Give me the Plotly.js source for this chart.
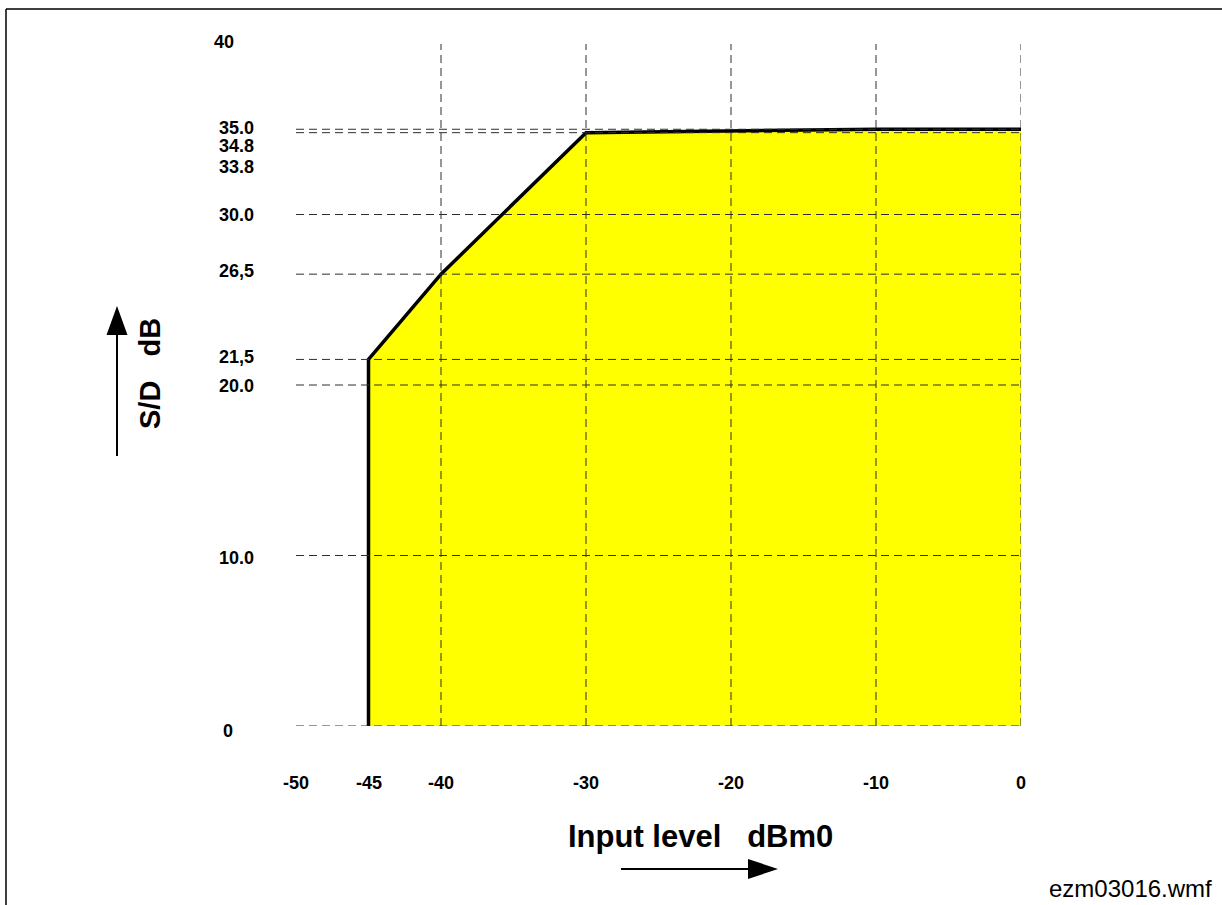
<!DOCTYPE html>
<html>
<head>
<meta charset="utf-8">
<script src="https://cdn.plot.ly/plotly-3.0.1.min.js"></script>
<style>
  html, body { margin: 0; padding: 0; background: #fff; }
  #chart { width: 1222px; height: 905px; }
</style>
</head>
<body>
<div id="chart"></div>
<script>
// ---- data ----
const curveX = [-45, -45, -40, -30, -10, 0];
const curveY = [0, 21.5, 26.5, 34.8, 35, 35];

const gridX = [-40, -30, -20, -10, 0];
const gridY = [0, 10, 20, 21.5, 26.5, 30, 34.8, 35];

const xTickVals = [-50, -45, -40, -30, -20, -10, 0];
const xTickText = ['-50', '-45', '-40', '-30', '-20', '-10', '0'];

const yTickVals = [0, 10, 20, 21.5, 26.5, 30, 33.8, 34.8, 35, 40];
const yTickText = ['0', '10.0', '20.0', '21,5', '26,5', '30.0', '33.8', '34.8', '35.0', '40'];

const xTitle = 'Input level\u00A0\u00A0\u00A0dBm0';
const yTitle = 'S/D\u00A0\u00A0\u00A0dB';
const fileTag = 'ezm03016.wmf';

// ---- layout constants (page pixels) ----
const W = 1222, H = 905;
const M = { l: 296, r: 201, t: 44, b: 179 };
const PW = W - M.l - M.r, PH = H - M.t - M.b;
const px = p => (p - M.l) / PW;          // page x -> paper x
const py = p => (H - M.b - p) / PH;      // page y -> paper y

const FONT = 'Liberation Sans, Arial, sans-serif';
const TICK_SIZE = 18;
const GRID = { color: '#2e2e2e', width: 1, dash: '8px,5px' };

// per-label placement tweaks (style only)
const yLabelStyle = {
  '0':    { xanchor: 'center', xshift: -68, yshift: -5 },
  '40':   { xanchor: 'center', xshift: -72, yshift: 2 },
  '35.0': { yshift: 1 },
  '34.8': { yshift: -13 },
  '33.8': { yshift: -17 },
  '26,5': { yshift: 3 },
  '21,5': { yshift: 2 },
  '20.0': { yshift: -1 },
  '10.0': { yshift: -2 }
};

const shapes = [];
gridX.forEach(v => shapes.push({
  type: 'line', xref: 'x', yref: 'y', x0: v, x1: v, y0: 0, y1: 40,
  line: GRID, layer: 'above'
}));
gridY.forEach(v => shapes.push({
  type: 'line', xref: 'x', yref: 'y', x0: -50, x1: 0, y0: v, y1: v,
  line: GRID, layer: 'above'
}));
// outer frame (left & top edges)
shapes.push({ type: 'line', xref: 'paper', yref: 'paper',
  x0: px(6), x1: px(6), y0: py(9), y1: py(910), line: { color: '#000', width: 1.5 } });
shapes.push({ type: 'line', xref: 'paper', yref: 'paper',
  x0: px(6), x1: px(1230), y0: py(9), y1: py(9), line: { color: '#000', width: 1.5 } });
// up arrow (y axis)
shapes.push({ type: 'line', xref: 'paper', yref: 'paper',
  x0: px(117), x1: px(117), y0: py(456), y1: py(330), line: { color: '#000', width: 2 } });
shapes.push({ type: 'path', xref: 'paper', yref: 'paper',
  path: `M ${px(106.5)} ${py(335)} L ${px(127.5)} ${py(335)} L ${px(117)} ${py(306)} Z`,
  fillcolor: '#000', line: { color: '#000', width: 0 } });
// right arrow (x axis)
shapes.push({ type: 'line', xref: 'paper', yref: 'paper',
  x0: px(621), x1: px(752), y0: py(869), y1: py(869), line: { color: '#000', width: 2 } });
shapes.push({ type: 'path', xref: 'paper', yref: 'paper',
  path: `M ${px(748)} ${py(859)} L ${px(748)} ${py(879)} L ${px(778)} ${py(869)} Z`,
  fillcolor: '#000', line: { color: '#000', width: 0 } });

const annotations = [];
xTickVals.forEach((v, i) => annotations.push({
  xref: 'x', yref: 'y', x: v, y: 0, yshift: -56.5,
  text: xTickText[i], showarrow: false, xanchor: 'center', yanchor: 'middle',
  font: { family: FONT, size: TICK_SIZE, color: '#000', weight: 'bold' }
}));
yTickVals.forEach((v, i) => {
  const t = yTickText[i];
  const s = yLabelStyle[t] || {};
  annotations.push({
    xref: 'x', yref: 'y', x: -50, y: v,
    xshift: s.xshift !== undefined ? s.xshift : -40,
    yshift: s.yshift || 0,
    text: t, showarrow: false, xanchor: s.xanchor || 'right', yanchor: 'middle',
    font: { family: FONT, size: TICK_SIZE, color: '#000', weight: 'bold' }
  });
});
annotations.push({
  xref: 'paper', yref: 'paper', x: px(700), y: py(836),
  text: xTitle, showarrow: false, xanchor: 'center', yanchor: 'middle',
  font: { family: FONT, size: 31, color: '#000', weight: 'bold' }
});
annotations.push({
  xref: 'paper', yref: 'paper', x: px(150), y: py(374),
  text: yTitle, showarrow: false, xanchor: 'center', yanchor: 'middle', textangle: -90,
  font: { family: FONT, size: 29, color: '#000', weight: 'bold' }
});
annotations.push({
  xref: 'paper', yref: 'paper', x: px(1214), y: py(888),
  text: fileTag, showarrow: false, xanchor: 'right', yanchor: 'middle',
  font: { family: FONT, size: 24, color: '#000' }
});

const trace = {
  type: 'scatter', mode: 'lines', x: curveX, y: curveY,
  fill: 'tozeroy', fillcolor: '#ffff00',
  line: { color: '#000', width: 3.5 },
  cliponaxis: false, hoverinfo: 'skip'
};

const layout = {
  width: W, height: H,
  margin: M,
  paper_bgcolor: '#fff', plot_bgcolor: 'rgba(0,0,0,0)',
  showlegend: false,
  xaxis: { range: [-50, 0], showgrid: false, zeroline: false, showline: false,
           showticklabels: false, ticks: '', fixedrange: true },
  yaxis: { range: [0, 40], showgrid: false, zeroline: false, showline: false,
           showticklabels: false, ticks: '', fixedrange: true },
  shapes: shapes,
  annotations: annotations
};

Plotly.newPlot('chart', [trace], layout, { displayModeBar: false, staticPlot: true });
</script>
</body>
</html>
